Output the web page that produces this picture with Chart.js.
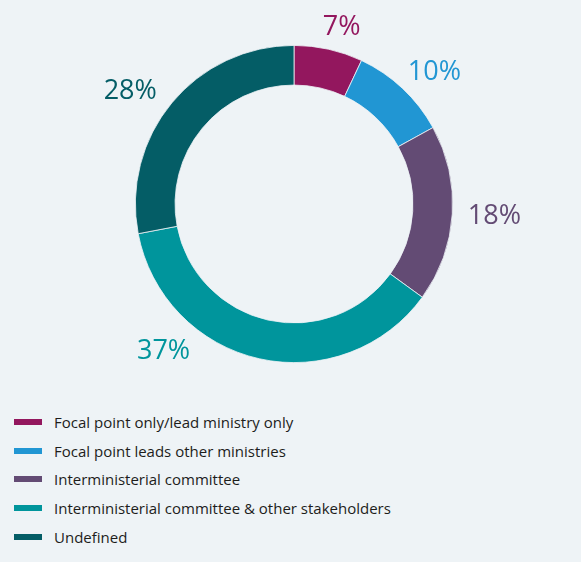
<!DOCTYPE html>
<html>
<head>
<meta charset="utf-8">
<script src="https://cdn.jsdelivr.net/npm/chart.js@4"></script>
<style>
  html, body { margin: 0; padding: 0; }
  body {
    width: 581px; height: 562px; position: relative; overflow: hidden;
    background: #eef3f6;
    font-family: "Open Sans", sans-serif;
  }
  #wrap { position: absolute; left: 0; top: 0; width: 581px; height: 400px; }
  #legend {
    position: absolute; left: 14px; top: 408px;
    list-style: none; margin: 0; padding: 0;
  }
  #legend li {
    display: flex; align-items: center;
    height: 28.6px; font-size: 15px; color: #1d1d1b;
  }
  #legend .sw { width: 28px; height: 6px; margin-right: 12px; }
</style>
</head>
<body>
<div id="wrap"><canvas id="donut"></canvas></div>
<ul id="legend"></ul>

<script>
// DATA
const categories = [
    "Focal point only/lead ministry only",
    "Focal point leads other ministries",
    "Interministerial committee",
    "Interministerial committee & other stakeholders",
    "Undefined"
];
const shares = [7, 10, 18, 37, 28];
const colors = ["#93175e", "#2196d3", "#634b74", "#00959c", "#045d66"];

// percentage labels around the ring
const ringLabels = {
    id: "ringLabels",
    afterDraw(chart, args, opts) {
        const ctx = chart.ctx;
        const arcs = chart.getDatasetMeta(0).data;
        ctx.save();
        ctx.font = "27px 'Open Sans', sans-serif";
        ctx.textAlign = "center";
        ctx.textBaseline = "middle";
        arcs.forEach((arc, i) => {
            const p = arc.getProps(["x", "y", "startAngle", "endAngle", "outerRadius"], true);
            const mid = (p.startAngle + p.endAngle) / 2 + (opts.shift[i] || 0) * Math.PI / 180;
            const r = p.outerRadius + opts.gap[i];
            ctx.fillStyle = colors[i];
            ctx.fillText(shares[i] + "%", p.x + Math.cos(mid) * r, p.y + Math.sin(mid) * r + 3);
        });
        ctx.restore();
    }
};

const chart = new Chart(document.getElementById("donut"), {
    type: "doughnut",
    data: {
        labels: categories,
        datasets: [{
            data: shares,
            backgroundColor: colors,
            borderColor: "#eef3f6",
            borderWidth: 0.8
        }]
    },
    options: {
        responsive: true,
        maintainAspectRatio: false,
        animation: false,
        cutout: "75%",
        layout: { padding: { left: 135, right: 128, top: 45, bottom: 37 } },
        plugins: {
            legend: { display: false },
            tooltip: { enabled: false },
            ringLabels: { gap: [27, 36, 42, 36, 42], shift: [2.3, 3, -1, 29.5, -4.3] }
        }
    },
    plugins: [ringLabels]
});

// LEGEND
const legendEl = document.getElementById("legend");
categories.forEach((name, i) => {
    const li = document.createElement("li");
    li.innerHTML = `<span class="sw" style="background:${colors[i]}"></span><span>${name}</span>`;
    legendEl.appendChild(li);
});
</script>
</body>
</html>
